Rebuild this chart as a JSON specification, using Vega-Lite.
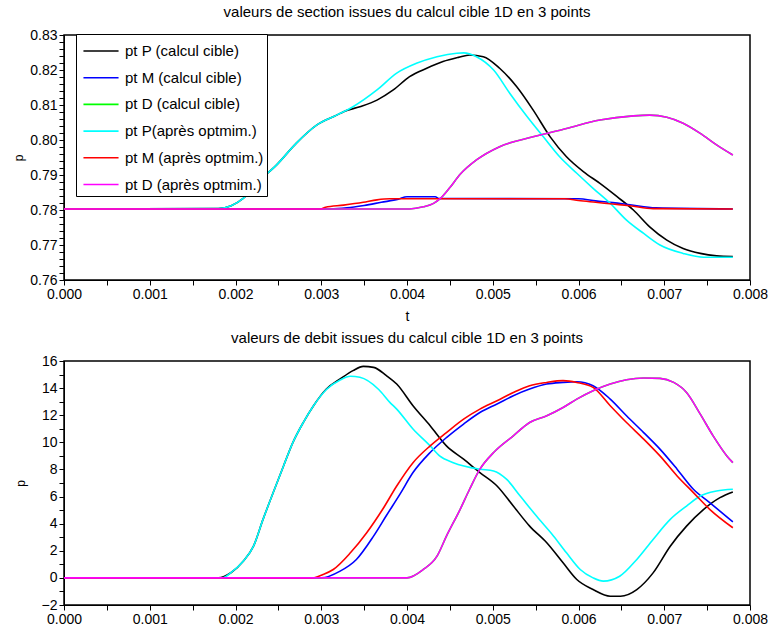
{
  "$schema": "https://vega.github.io/schema/vega-lite/v6.json",
  "padding": {"left": 12, "top": 4, "right": 8, "bottom": 0},
  "spacing": 6,
  "config": {
    "font": "Liberation Sans",
    "view": {"stroke": "black", "strokeWidth": 1.5},
    "axis": {"grid": false, "domainColor": "black", "tickColor": "black", "labelColor": "black", "labelFontSize": 14, "tickSize": 5, "titleFontWeight": "normal", "titleColor": "black", "labelOverlap": false, "labelFlush": false, "labelBound": false},
    "title": {"fontSize": 15, "fontWeight": "normal", "color": "black", "offset": 8}
  },
  "resolve": {"legend": {"color": "independent"}},
  "datasets": {
    "section": [
      {"t":0,"p":0.7803,"s":"pt P (calcul cible)"},{"t":0.0018,"p":0.7804,"s":"pt P (calcul cible)"},{"t":0.00195,"p":0.7812,"s":"pt P (calcul cible)"},{"t":0.00209,"p":0.7833,"s":"pt P (calcul cible)"},{"t":0.00229,"p":0.7886,"s":"pt P (calcul cible)"},{"t":0.00248,"p":0.7929,"s":"pt P (calcul cible)"},{"t":0.00271,"p":0.7991,"s":"pt P (calcul cible)"},{"t":0.00295,"p":0.8043,"s":"pt P (calcul cible)"},{"t":0.00318,"p":0.8071,"s":"pt P (calcul cible)"},{"t":0.00326,"p":0.8081,"s":"pt P (calcul cible)"},{"t":0.00345,"p":0.8095,"s":"pt P (calcul cible)"},{"t":0.00365,"p":0.8114,"s":"pt P (calcul cible)"},{"t":0.00384,"p":0.8143,"s":"pt P (calcul cible)"},{"t":0.00403,"p":0.8181,"s":"pt P (calcul cible)"},{"t":0.00423,"p":0.8205,"s":"pt P (calcul cible)"},{"t":0.00442,"p":0.8224,"s":"pt P (calcul cible)"},{"t":0.0046,"p":0.8236,"s":"pt P (calcul cible)"},{"t":0.00473,"p":0.8243,"s":"pt P (calcul cible)"},{"t":0.00489,"p":0.8238,"s":"pt P (calcul cible)"},{"t":0.00508,"p":0.8205,"s":"pt P (calcul cible)"},{"t":0.00528,"p":0.8152,"s":"pt P (calcul cible)"},{"t":0.00547,"p":0.8086,"s":"pt P (calcul cible)"},{"t":0.00567,"p":0.8009,"s":"pt P (calcul cible)"},{"t":0.00586,"p":0.7952,"s":"pt P (calcul cible)"},{"t":0.00606,"p":0.7909,"s":"pt P (calcul cible)"},{"t":0.00625,"p":0.7876,"s":"pt P (calcul cible)"},{"t":0.00645,"p":0.7838,"s":"pt P (calcul cible)"},{"t":0.00664,"p":0.78,"s":"pt P (calcul cible)"},{"t":0.00683,"p":0.7752,"s":"pt P (calcul cible)"},{"t":0.00703,"p":0.7714,"s":"pt P (calcul cible)"},{"t":0.00722,"p":0.769,"s":"pt P (calcul cible)"},{"t":0.00742,"p":0.7676,"s":"pt P (calcul cible)"},{"t":0.00761,"p":0.7669,"s":"pt P (calcul cible)"},{"t":0.0078,"p":0.7667,"s":"pt P (calcul cible)"},
      {"t":0,"p":0.7803,"s":"pt M (calcul cible)"},{"t":0.0031,"p":0.7803,"s":"pt M (calcul cible)"},{"t":0.0033,"p":0.7806,"s":"pt M (calcul cible)"},{"t":0.0035,"p":0.7813,"s":"pt M (calcul cible)"},{"t":0.0037,"p":0.7822,"s":"pt M (calcul cible)"},{"t":0.0039,"p":0.7831,"s":"pt M (calcul cible)"},{"t":0.004,"p":0.7838,"s":"pt M (calcul cible)"},{"t":0.00433,"p":0.7838,"s":"pt M (calcul cible)"},{"t":0.00437,"p":0.7833,"s":"pt M (calcul cible)"},{"t":0.006,"p":0.7832,"s":"pt M (calcul cible)"},{"t":0.0062,"p":0.7826,"s":"pt M (calcul cible)"},{"t":0.0064,"p":0.7821,"s":"pt M (calcul cible)"},{"t":0.0066,"p":0.7815,"s":"pt M (calcul cible)"},{"t":0.0069,"p":0.7806,"s":"pt M (calcul cible)"},{"t":0.0078,"p":0.7803,"s":"pt M (calcul cible)"},
      {"t":0,"p":0.7803,"s":"pt D (calcul cible)"},{"t":0.00403,"p":0.7803,"s":"pt D (calcul cible)"},{"t":0.00419,"p":0.7809,"s":"pt D (calcul cible)"},{"t":0.00431,"p":0.7819,"s":"pt D (calcul cible)"},{"t":0.00439,"p":0.7833,"s":"pt D (calcul cible)"},{"t":0.0045,"p":0.7864,"s":"pt D (calcul cible)"},{"t":0.00462,"p":0.7902,"s":"pt D (calcul cible)"},{"t":0.00481,"p":0.7943,"s":"pt D (calcul cible)"},{"t":0.00508,"p":0.7981,"s":"pt D (calcul cible)"},{"t":0.00547,"p":0.8009,"s":"pt D (calcul cible)"},{"t":0.00586,"p":0.8033,"s":"pt D (calcul cible)"},{"t":0.00625,"p":0.8057,"s":"pt D (calcul cible)"},{"t":0.00664,"p":0.8069,"s":"pt D (calcul cible)"},{"t":0.00683,"p":0.8071,"s":"pt D (calcul cible)"},{"t":0.00703,"p":0.8065,"s":"pt D (calcul cible)"},{"t":0.00722,"p":0.8048,"s":"pt D (calcul cible)"},{"t":0.00742,"p":0.8019,"s":"pt D (calcul cible)"},{"t":0.00761,"p":0.7986,"s":"pt D (calcul cible)"},{"t":0.0078,"p":0.7957,"s":"pt D (calcul cible)"},
      {"t":0,"p":0.7803,"s":"pt P(après optmim.)"},{"t":0.0018,"p":0.7804,"s":"pt P(après optmim.)"},{"t":0.00195,"p":0.7812,"s":"pt P(après optmim.)"},{"t":0.00209,"p":0.7833,"s":"pt P(après optmim.)"},{"t":0.00229,"p":0.7886,"s":"pt P(après optmim.)"},{"t":0.00248,"p":0.7929,"s":"pt P(après optmim.)"},{"t":0.00271,"p":0.7991,"s":"pt P(après optmim.)"},{"t":0.00295,"p":0.8043,"s":"pt P(après optmim.)"},{"t":0.00318,"p":0.8071,"s":"pt P(après optmim.)"},{"t":0.00337,"p":0.8095,"s":"pt P(après optmim.)"},{"t":0.00365,"p":0.8143,"s":"pt P(après optmim.)"},{"t":0.00388,"p":0.8191,"s":"pt P(après optmim.)"},{"t":0.00411,"p":0.8219,"s":"pt P(après optmim.)"},{"t":0.00435,"p":0.8238,"s":"pt P(après optmim.)"},{"t":0.00458,"p":0.8248,"s":"pt P(après optmim.)"},{"t":0.00466,"p":0.8249,"s":"pt P(après optmim.)"},{"t":0.00481,"p":0.8238,"s":"pt P(après optmim.)"},{"t":0.00501,"p":0.82,"s":"pt P(après optmim.)"},{"t":0.0052,"p":0.8133,"s":"pt P(après optmim.)"},{"t":0.0054,"p":0.8067,"s":"pt P(après optmim.)"},{"t":0.00559,"p":0.8009,"s":"pt P(après optmim.)"},{"t":0.00578,"p":0.7952,"s":"pt P(après optmim.)"},{"t":0.00598,"p":0.7905,"s":"pt P(après optmim.)"},{"t":0.00617,"p":0.7862,"s":"pt P(après optmim.)"},{"t":0.00637,"p":0.7819,"s":"pt P(après optmim.)"},{"t":0.00656,"p":0.7771,"s":"pt P(après optmim.)"},{"t":0.00676,"p":0.7733,"s":"pt P(après optmim.)"},{"t":0.00695,"p":0.77,"s":"pt P(après optmim.)"},{"t":0.00722,"p":0.7676,"s":"pt P(après optmim.)"},{"t":0.00746,"p":0.7665,"s":"pt P(après optmim.)"},{"t":0.0078,"p":0.7665,"s":"pt P(après optmim.)"},
      {"t":0,"p":0.7803,"s":"pt M (après optmim.)"},{"t":0.003,"p":0.7803,"s":"pt M (après optmim.)"},{"t":0.00305,"p":0.7808,"s":"pt M (après optmim.)"},{"t":0.00326,"p":0.7814,"s":"pt M (après optmim.)"},{"t":0.00349,"p":0.7822,"s":"pt M (après optmim.)"},{"t":0.00365,"p":0.7829,"s":"pt M (après optmim.)"},{"t":0.0038,"p":0.7832,"s":"pt M (après optmim.)"},{"t":0.00584,"p":0.7832,"s":"pt M (après optmim.)"},{"t":0.006,"p":0.7827,"s":"pt M (après optmim.)"},{"t":0.0062,"p":0.7822,"s":"pt M (après optmim.)"},{"t":0.0064,"p":0.7817,"s":"pt M (après optmim.)"},{"t":0.0066,"p":0.7812,"s":"pt M (après optmim.)"},{"t":0.00687,"p":0.7804,"s":"pt M (après optmim.)"},{"t":0.0078,"p":0.7803,"s":"pt M (après optmim.)"},
      {"t":0,"p":0.7803,"s":"pt D (après optmim.)"},{"t":0.00403,"p":0.7803,"s":"pt D (après optmim.)"},{"t":0.00419,"p":0.7809,"s":"pt D (après optmim.)"},{"t":0.00431,"p":0.7819,"s":"pt D (après optmim.)"},{"t":0.00439,"p":0.7833,"s":"pt D (après optmim.)"},{"t":0.0045,"p":0.7864,"s":"pt D (après optmim.)"},{"t":0.00462,"p":0.7902,"s":"pt D (après optmim.)"},{"t":0.00481,"p":0.7943,"s":"pt D (après optmim.)"},{"t":0.00508,"p":0.7981,"s":"pt D (après optmim.)"},{"t":0.00547,"p":0.8009,"s":"pt D (après optmim.)"},{"t":0.00586,"p":0.8033,"s":"pt D (après optmim.)"},{"t":0.00625,"p":0.8057,"s":"pt D (après optmim.)"},{"t":0.00664,"p":0.8069,"s":"pt D (après optmim.)"},{"t":0.00683,"p":0.8071,"s":"pt D (après optmim.)"},{"t":0.00703,"p":0.8065,"s":"pt D (après optmim.)"},{"t":0.00722,"p":0.8048,"s":"pt D (après optmim.)"},{"t":0.00742,"p":0.8019,"s":"pt D (après optmim.)"},{"t":0.00761,"p":0.7986,"s":"pt D (après optmim.)"},{"t":0.0078,"p":0.7957,"s":"pt D (après optmim.)"}
    ],
    "debit": [
      {"t":0,"q":0,"s":"pt P (calcul cible)"},{"t":0.0018,"q":0,"s":"pt P (calcul cible)"},{"t":0.00195,"q":0.4,"s":"pt P (calcul cible)"},{"t":0.00209,"q":1.23,"s":"pt P (calcul cible)"},{"t":0.00221,"q":2.34,"s":"pt P (calcul cible)"},{"t":0.00232,"q":4.3,"s":"pt P (calcul cible)"},{"t":0.00244,"q":6.3,"s":"pt P (calcul cible)"},{"t":0.00256,"q":8.26,"s":"pt P (calcul cible)"},{"t":0.00267,"q":10.0,"s":"pt P (calcul cible)"},{"t":0.00279,"q":11.46,"s":"pt P (calcul cible)"},{"t":0.00291,"q":12.7,"s":"pt P (calcul cible)"},{"t":0.00306,"q":13.93,"s":"pt P (calcul cible)"},{"t":0.00322,"q":14.67,"s":"pt P (calcul cible)"},{"t":0.00337,"q":15.29,"s":"pt P (calcul cible)"},{"t":0.00349,"q":15.6,"s":"pt P (calcul cible)"},{"t":0.00361,"q":15.53,"s":"pt P (calcul cible)"},{"t":0.00376,"q":14.92,"s":"pt P (calcul cible)"},{"t":0.00388,"q":14.3,"s":"pt P (calcul cible)"},{"t":0.00407,"q":12.7,"s":"pt P (calcul cible)"},{"t":0.00427,"q":11.22,"s":"pt P (calcul cible)"},{"t":0.00446,"q":9.74,"s":"pt P (calcul cible)"},{"t":0.00466,"q":8.76,"s":"pt P (calcul cible)"},{"t":0.00485,"q":7.77,"s":"pt P (calcul cible)"},{"t":0.00505,"q":6.78,"s":"pt P (calcul cible)"},{"t":0.00524,"q":5.3,"s":"pt P (calcul cible)"},{"t":0.00543,"q":3.82,"s":"pt P (calcul cible)"},{"t":0.00563,"q":2.59,"s":"pt P (calcul cible)"},{"t":0.00582,"q":1.11,"s":"pt P (calcul cible)"},{"t":0.00598,"q":-0.12,"s":"pt P (calcul cible)"},{"t":0.00617,"q":-0.86,"s":"pt P (calcul cible)"},{"t":0.00637,"q":-1.35,"s":"pt P (calcul cible)"},{"t":0.00649,"q":-1.35,"s":"pt P (calcul cible)"},{"t":0.00668,"q":-0.86,"s":"pt P (calcul cible)"},{"t":0.00687,"q":0.37,"s":"pt P (calcul cible)"},{"t":0.00707,"q":2.34,"s":"pt P (calcul cible)"},{"t":0.00726,"q":3.82,"s":"pt P (calcul cible)"},{"t":0.00746,"q":5.06,"s":"pt P (calcul cible)"},{"t":0.00765,"q":5.92,"s":"pt P (calcul cible)"},{"t":0.0078,"q":6.34,"s":"pt P (calcul cible)"},
      {"t":0,"q":0,"s":"pt M (calcul cible)"},{"t":0.003,"q":0,"s":"pt M (calcul cible)"},{"t":0.00322,"q":0.5,"s":"pt M (calcul cible)"},{"t":0.00341,"q":1.36,"s":"pt M (calcul cible)"},{"t":0.00361,"q":3.08,"s":"pt M (calcul cible)"},{"t":0.00376,"q":4.6,"s":"pt M (calcul cible)"},{"t":0.00392,"q":6.2,"s":"pt M (calcul cible)"},{"t":0.00407,"q":7.77,"s":"pt M (calcul cible)"},{"t":0.00427,"q":9.25,"s":"pt M (calcul cible)"},{"t":0.00446,"q":10.35,"s":"pt M (calcul cible)"},{"t":0.00466,"q":11.35,"s":"pt M (calcul cible)"},{"t":0.00485,"q":12.2,"s":"pt M (calcul cible)"},{"t":0.00505,"q":12.83,"s":"pt M (calcul cible)"},{"t":0.00524,"q":13.44,"s":"pt M (calcul cible)"},{"t":0.00543,"q":13.93,"s":"pt M (calcul cible)"},{"t":0.00563,"q":14.3,"s":"pt M (calcul cible)"},{"t":0.00582,"q":14.42,"s":"pt M (calcul cible)"},{"t":0.00598,"q":14.47,"s":"pt M (calcul cible)"},{"t":0.00617,"q":14.18,"s":"pt M (calcul cible)"},{"t":0.00637,"q":13.19,"s":"pt M (calcul cible)"},{"t":0.00656,"q":11.96,"s":"pt M (calcul cible)"},{"t":0.00676,"q":10.72,"s":"pt M (calcul cible)"},{"t":0.00695,"q":9.5,"s":"pt M (calcul cible)"},{"t":0.00715,"q":8.02,"s":"pt M (calcul cible)"},{"t":0.00734,"q":6.54,"s":"pt M (calcul cible)"},{"t":0.00753,"q":5.55,"s":"pt M (calcul cible)"},{"t":0.0078,"q":4.14,"s":"pt M (calcul cible)"},
      {"t":0,"q":0,"s":"pt D (calcul cible)"},{"t":0.004,"q":0,"s":"pt D (calcul cible)"},{"t":0.00419,"q":0.62,"s":"pt D (calcul cible)"},{"t":0.00435,"q":1.6,"s":"pt D (calcul cible)"},{"t":0.00446,"q":3.08,"s":"pt D (calcul cible)"},{"t":0.00462,"q":5.06,"s":"pt D (calcul cible)"},{"t":0.00473,"q":6.54,"s":"pt D (calcul cible)"},{"t":0.00485,"q":8.02,"s":"pt D (calcul cible)"},{"t":0.00501,"q":9.25,"s":"pt D (calcul cible)"},{"t":0.00524,"q":10.48,"s":"pt D (calcul cible)"},{"t":0.00543,"q":11.46,"s":"pt D (calcul cible)"},{"t":0.00563,"q":11.96,"s":"pt D (calcul cible)"},{"t":0.00582,"q":12.57,"s":"pt D (calcul cible)"},{"t":0.00598,"q":13.19,"s":"pt D (calcul cible)"},{"t":0.00617,"q":13.81,"s":"pt D (calcul cible)"},{"t":0.00637,"q":14.3,"s":"pt D (calcul cible)"},{"t":0.00656,"q":14.62,"s":"pt D (calcul cible)"},{"t":0.00676,"q":14.75,"s":"pt D (calcul cible)"},{"t":0.00695,"q":14.72,"s":"pt D (calcul cible)"},{"t":0.00711,"q":14.42,"s":"pt D (calcul cible)"},{"t":0.00726,"q":13.68,"s":"pt D (calcul cible)"},{"t":0.00742,"q":12.08,"s":"pt D (calcul cible)"},{"t":0.00757,"q":10.48,"s":"pt D (calcul cible)"},{"t":0.00773,"q":9.0,"s":"pt D (calcul cible)"},{"t":0.0078,"q":8.5,"s":"pt D (calcul cible)"},
      {"t":0,"q":0,"s":"pt P(après optmim.)"},{"t":0.00185,"q":0,"s":"pt P(après optmim.)"},{"t":0.00195,"q":0.4,"s":"pt P(après optmim.)"},{"t":0.00209,"q":1.23,"s":"pt P(après optmim.)"},{"t":0.00221,"q":2.34,"s":"pt P(après optmim.)"},{"t":0.00232,"q":4.3,"s":"pt P(après optmim.)"},{"t":0.00244,"q":6.3,"s":"pt P(après optmim.)"},{"t":0.00256,"q":8.26,"s":"pt P(après optmim.)"},{"t":0.00267,"q":10.0,"s":"pt P(après optmim.)"},{"t":0.00279,"q":11.46,"s":"pt P(après optmim.)"},{"t":0.00291,"q":12.7,"s":"pt P(après optmim.)"},{"t":0.00306,"q":13.9,"s":"pt P(après optmim.)"},{"t":0.00322,"q":14.6,"s":"pt P(après optmim.)"},{"t":0.00334,"q":14.87,"s":"pt P(après optmim.)"},{"t":0.00345,"q":14.8,"s":"pt P(après optmim.)"},{"t":0.00367,"q":13.9,"s":"pt P(après optmim.)"},{"t":0.0038,"q":12.95,"s":"pt P(après optmim.)"},{"t":0.00388,"q":12.45,"s":"pt P(après optmim.)"},{"t":0.00407,"q":10.98,"s":"pt P(après optmim.)"},{"t":0.00427,"q":9.74,"s":"pt P(après optmim.)"},{"t":0.00438,"q":9.0,"s":"pt P(après optmim.)"},{"t":0.00454,"q":8.5,"s":"pt P(après optmim.)"},{"t":0.00485,"q":8.02,"s":"pt P(après optmim.)"},{"t":0.00501,"q":7.89,"s":"pt P(après optmim.)"},{"t":0.00516,"q":7.28,"s":"pt P(après optmim.)"},{"t":0.00532,"q":6.04,"s":"pt P(après optmim.)"},{"t":0.00551,"q":4.56,"s":"pt P(après optmim.)"},{"t":0.00571,"q":3.08,"s":"pt P(après optmim.)"},{"t":0.00586,"q":1.85,"s":"pt P(après optmim.)"},{"t":0.00602,"q":0.62,"s":"pt P(après optmim.)"},{"t":0.00617,"q":0,"s":"pt P(après optmim.)"},{"t":0.00629,"q":-0.24,"s":"pt P(après optmim.)"},{"t":0.00648,"q":0.12,"s":"pt P(après optmim.)"},{"t":0.00668,"q":1.36,"s":"pt P(après optmim.)"},{"t":0.00687,"q":2.84,"s":"pt P(après optmim.)"},{"t":0.00707,"q":4.32,"s":"pt P(après optmim.)"},{"t":0.00726,"q":5.3,"s":"pt P(après optmim.)"},{"t":0.00742,"q":6.04,"s":"pt P(après optmim.)"},{"t":0.00761,"q":6.41,"s":"pt P(après optmim.)"},{"t":0.0078,"q":6.54,"s":"pt P(après optmim.)"},
      {"t":0,"q":0,"s":"pt M (après optmim.)"},{"t":0.0029,"q":0,"s":"pt M (après optmim.)"},{"t":0.00302,"q":0.25,"s":"pt M (après optmim.)"},{"t":0.00314,"q":0.62,"s":"pt M (après optmim.)"},{"t":0.00334,"q":1.85,"s":"pt M (après optmim.)"},{"t":0.00353,"q":3.33,"s":"pt M (après optmim.)"},{"t":0.00372,"q":5.1,"s":"pt M (après optmim.)"},{"t":0.00388,"q":6.78,"s":"pt M (après optmim.)"},{"t":0.00407,"q":8.5,"s":"pt M (après optmim.)"},{"t":0.00427,"q":9.74,"s":"pt M (après optmim.)"},{"t":0.00446,"q":10.72,"s":"pt M (après optmim.)"},{"t":0.00466,"q":11.71,"s":"pt M (après optmim.)"},{"t":0.00485,"q":12.45,"s":"pt M (après optmim.)"},{"t":0.00505,"q":13.07,"s":"pt M (après optmim.)"},{"t":0.00524,"q":13.68,"s":"pt M (après optmim.)"},{"t":0.00543,"q":14.18,"s":"pt M (après optmim.)"},{"t":0.00563,"q":14.42,"s":"pt M (après optmim.)"},{"t":0.00582,"q":14.55,"s":"pt M (après optmim.)"},{"t":0.00598,"q":14.42,"s":"pt M (après optmim.)"},{"t":0.00617,"q":14.05,"s":"pt M (après optmim.)"},{"t":0.00637,"q":12.7,"s":"pt M (après optmim.)"},{"t":0.00656,"q":11.46,"s":"pt M (après optmim.)"},{"t":0.00676,"q":10.24,"s":"pt M (après optmim.)"},{"t":0.00695,"q":9.0,"s":"pt M (après optmim.)"},{"t":0.00715,"q":7.52,"s":"pt M (après optmim.)"},{"t":0.00734,"q":6.29,"s":"pt M (après optmim.)"},{"t":0.00753,"q":5.06,"s":"pt M (après optmim.)"},{"t":0.0078,"q":3.7,"s":"pt M (après optmim.)"},
      {"t":0,"q":0,"s":"pt D (après optmim.)"},{"t":0.004,"q":0,"s":"pt D (après optmim.)"},{"t":0.00419,"q":0.62,"s":"pt D (après optmim.)"},{"t":0.00435,"q":1.6,"s":"pt D (après optmim.)"},{"t":0.00446,"q":3.08,"s":"pt D (après optmim.)"},{"t":0.00462,"q":5.06,"s":"pt D (après optmim.)"},{"t":0.00473,"q":6.54,"s":"pt D (après optmim.)"},{"t":0.00485,"q":8.02,"s":"pt D (après optmim.)"},{"t":0.00501,"q":9.25,"s":"pt D (après optmim.)"},{"t":0.00524,"q":10.48,"s":"pt D (après optmim.)"},{"t":0.00543,"q":11.46,"s":"pt D (après optmim.)"},{"t":0.00563,"q":11.96,"s":"pt D (après optmim.)"},{"t":0.00582,"q":12.57,"s":"pt D (après optmim.)"},{"t":0.00598,"q":13.19,"s":"pt D (après optmim.)"},{"t":0.00617,"q":13.81,"s":"pt D (après optmim.)"},{"t":0.00637,"q":14.3,"s":"pt D (après optmim.)"},{"t":0.00656,"q":14.62,"s":"pt D (après optmim.)"},{"t":0.00676,"q":14.75,"s":"pt D (après optmim.)"},{"t":0.00695,"q":14.72,"s":"pt D (après optmim.)"},{"t":0.00711,"q":14.42,"s":"pt D (après optmim.)"},{"t":0.00726,"q":13.68,"s":"pt D (après optmim.)"},{"t":0.00742,"q":12.08,"s":"pt D (après optmim.)"},{"t":0.00757,"q":10.48,"s":"pt D (après optmim.)"},{"t":0.00773,"q":9.0,"s":"pt D (après optmim.)"},{"t":0.0078,"q":8.5,"s":"pt D (après optmim.)"}
    ]
  },
  "vconcat": [
    {
      "title": {"text": "valeurs de section issues du calcul cible 1D en 3 points"},
      "width": 686,
      "height": 245,
      "data": {"name": "section"},
      "mark": {"type": "line", "strokeWidth": 1.6, "clip": true, "interpolate": "monotone"},
      "encoding": {
        "x": {"field": "t", "type": "quantitative", "title": "t", "scale": {"domain": [0, 0.008], "nice": false},
          "axis": {"values": [0,0.0005,0.001,0.0015,0.002,0.0025,0.003,0.0035,0.004,0.0045,0.005,0.0055,0.006,0.0065,0.007,0.0075,0.008], "labelExpr": "abs(datum.value*1000 - round(datum.value*1000)) < 0.000001 ? format(datum.value, '.3f') : ''", "titleFontSize": 14, "titlePadding": 8, "labelPadding": 2}},
        "y": {"field": "p", "type": "quantitative", "title": "p", "scale": {"domain": [0.76, 0.83], "nice": false, "zero": false},
          "axis": {"values": [0.76,0.762,0.764,0.766,0.768,0.77,0.772,0.774,0.776,0.778,0.78,0.782,0.784,0.786,0.788,0.79,0.792,0.794,0.796,0.798,0.8,0.802,0.804,0.806,0.808,0.81,0.812,0.814,0.816,0.818,0.82,0.822,0.824,0.826,0.828,0.83], "labelExpr": "abs(datum.value*100 - round(datum.value*100)) < 0.000001 ? format(datum.value, '.2f') : ''", "titleFontSize": 12, "titlePadding": 4, "labelPadding": 2}},
        "color": {"field": "s", "type": "nominal", "sort": null,
          "scale": {"domain": ["pt P (calcul cible)", "pt M (calcul cible)", "pt D (calcul cible)", "pt P(après optmim.)", "pt M (après optmim.)", "pt D (après optmim.)"], "range": ["#000000", "#0000FF", "#00FF00", "#00FFFF", "#FF0000", "#FF00FF"]},
          "legend": {"title": null, "orient": "none", "legendX": 12, "legendY": -1, "strokeColor": "black", "fillColor": "white", "padding": 3, "symbolType": "M-1.35,0H1.35", "symbolSize": 676, "symbolStrokeWidth": 1.6, "symbolOffset": 8, "labelFontSize": 15, "labelColor": "black", "rowPadding": 4.7, "labelOffset": 10, "labelExpr": "datum.label + '\u00a0\u00a0'"}}
      }
    },
    {
      "title": {"text": "valeurs de debit issues du calcul cible 1D en 3 points"},
      "width": 686,
      "height": 244,
      "data": {"name": "debit"},
      "mark": {"type": "line", "strokeWidth": 1.6, "clip": true, "interpolate": "monotone"},
      "encoding": {
        "x": {"field": "t", "type": "quantitative", "title": null, "scale": {"domain": [0, 0.008], "nice": false},
          "axis": {"values": [0,0.0005,0.001,0.0015,0.002,0.0025,0.003,0.0035,0.004,0.0045,0.005,0.0055,0.006,0.0065,0.007,0.0075,0.008], "labelExpr": "abs(datum.value*1000 - round(datum.value*1000)) < 0.000001 ? format(datum.value, '.3f') : ''", "labelPadding": 2}},
        "y": {"field": "q", "type": "quantitative", "title": "p", "scale": {"domain": [-2, 16], "nice": false},
          "axis": {"values": [-2,-1,0,1,2,3,4,5,6,7,8,9,10,11,12,13,14,15,16], "labelExpr": "datum.value % 2 == 0 ? format(datum.value, 'd') : ''", "titleFontSize": 12, "titlePadding": 14, "labelPadding": 2}},
        "color": {"field": "s", "type": "nominal", "sort": null,
          "scale": {"domain": ["pt P (calcul cible)", "pt M (calcul cible)", "pt D (calcul cible)", "pt P(après optmim.)", "pt M (après optmim.)", "pt D (après optmim.)"], "range": ["#000000", "#0000FF", "#00FF00", "#00FFFF", "#FF0000", "#FF00FF"]},
          "legend": null}
      }
    }
  ]
}
